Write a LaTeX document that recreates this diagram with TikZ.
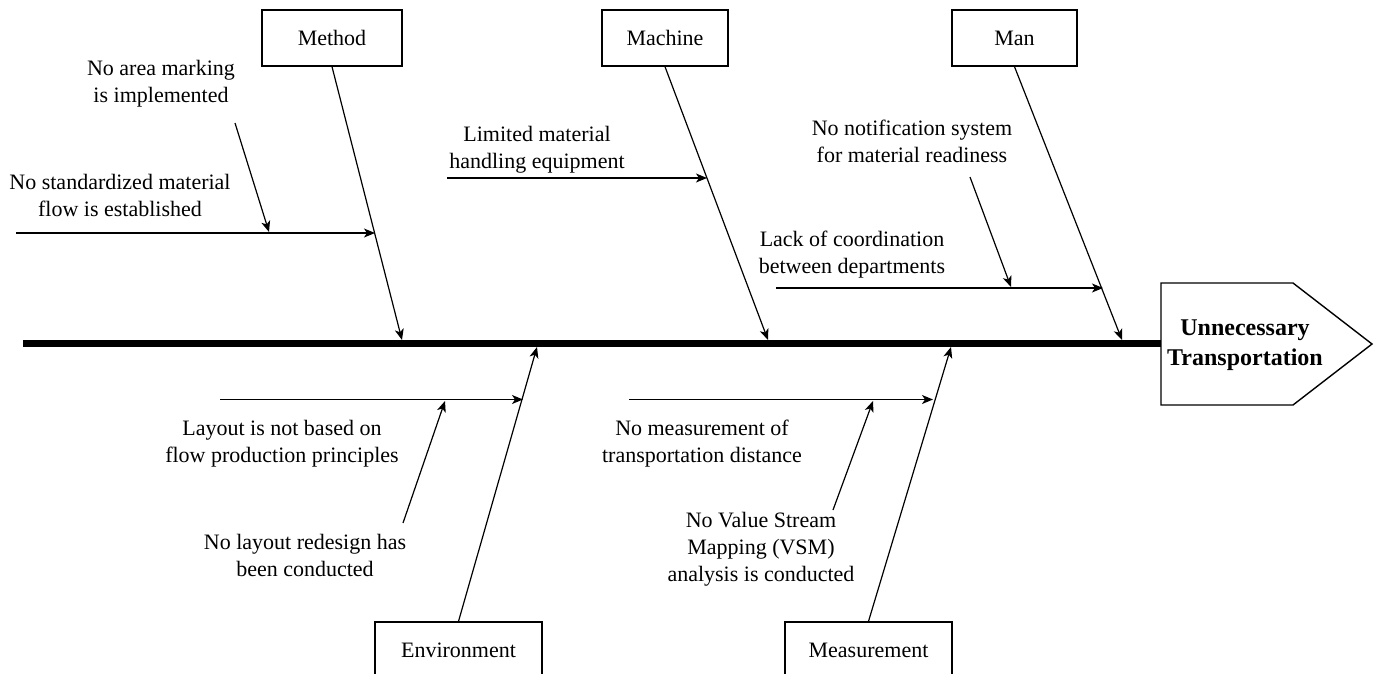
\documentclass[tikz,border=0pt]{standalone}
\usepackage{fontspec}
\setmainfont{Liberation Serif}
\usetikzlibrary{arrows.meta}
\begin{document}
\begin{tikzpicture}[x=1pt,y=-1pt,
  txt/.style={font=\fontsize{22}{27}\selectfont},
  catbox/.style={txt, draw, line width=1.4pt, minimum height=56pt, inner sep=0pt},
  cause/.style={txt, align=center, inner sep=0pt},
  bone/.style={line width=1.2pt, -{Stealth[length=11pt,width=9pt,inset=3pt]}},
  twig/.style={line width=1.2pt, -{Stealth[length=11pt,width=9pt,inset=3pt]}}]
\clip (0,0) rectangle (1377,673);
\fill[white] (0,0) rectangle (1377,673);

% category boxes
\node[catbox, minimum width=140pt] (method) at (332,38) {Method};
\node[catbox, minimum width=126pt] (machine) at (665,38) {Machine};
\node[catbox, minimum width=125pt] (man) at (1014.5,38) {Man};
\node[catbox, minimum width=167pt] (env) at (458.5,650) {Environment};
\node[catbox, minimum width=167pt] (meas) at (868.5,650) {Measurement};

% spine and head
\coordinate (spineL) at (23,343.5);
\coordinate (headW) at (1161,343.5);
\draw[line width=6.5pt] (spineL) -- (headW);
\draw[line width=1.4pt] (1161,283) -- (1293,283) -- (1372,344) -- (1293,405) -- (1161,405) -- cycle;
\node[align=center, inner sep=0pt, font=\fontsize{24}{30}\selectfont\bfseries] (head) at (1245,345) {Unnecessary\\Transportation};

% points where the bones meet the spine
\coordinate (methodT) at (402,340);
\coordinate (machineT) at (768,340);
\coordinate (manT) at (1122,340);
\coordinate (envT) at (537,347);
\coordinate (measT) at (951,347);

\draw[bone] (method.south) -- (methodT);
\draw[bone] (machine.south) -- (machineT);
\draw[bone] (man.south) -- (manT);
\draw[bone] (env.north) -- (envT);
\draw[bone] (meas.north) -- (measT);

% Method causes
\coordinate (m1s) at (16,233);
\coordinate (m1e) at (375,233);
\coordinate (m2s) at (235,123);
\coordinate (m2e) at (269,232);
\draw[twig] (m1s) -- (m1e);
\draw[twig] (m2s) -- (m2e);
\node[cause] (c1) at (161,83.5) {No area marking\\is implemented};
\node[cause] (c2) at (120,195) {No standardized material\\flow is established};

% Machine cause
\coordinate (k1s) at (447,178);
\coordinate (k1e) at (707,178);
\draw[twig] (k1s) -- (k1e);
\node[cause] (c3) at (537,150) {Limited material\\handling equipment};

% Man causes
\coordinate (h1s) at (776,288);
\coordinate (h1e) at (1103,288);
\coordinate (h2s) at (970,177);
\coordinate (h2e) at (1011,287);
\draw[twig] (h1s) -- (h1e);
\draw[twig] (h2s) -- (h2e);
\node[cause] (c4) at (912,141) {No notification system\\for material readiness};
\node[cause] (c5) at (852,255) {Lack of coordination\\between departments};

% Environment causes
\coordinate (e1s) at (220,399.5);
\coordinate (e1e) at (523,399.5);
\coordinate (e2s) at (403,523);
\coordinate (e2e) at (445,401);
\draw[twig] (e1s) -- (e1e);
\draw[twig] (e2s) -- (e2e);
\node[cause] (c6) at (282,443.5) {Layout is not based on\\flow production principles};
\node[cause] (c7) at (305,555) {No layout redesign has\\been conducted};

% Measurement causes
\coordinate (s1s) at (629,399.5);
\coordinate (s1e) at (933,399.5);
\coordinate (s2s) at (833,510);
\coordinate (s2e) at (873,401);
\draw[twig] (s1s) -- (s1e);
\draw[twig] (s2s) -- (s2e);
\node[cause] (c8) at (702,443.5) {No measurement of\\transportation distance};
\node[cause] (c9) at (761,549) {No Value Stream\\Mapping (VSM)\\analysis is conducted};
\end{tikzpicture}
\end{document}
